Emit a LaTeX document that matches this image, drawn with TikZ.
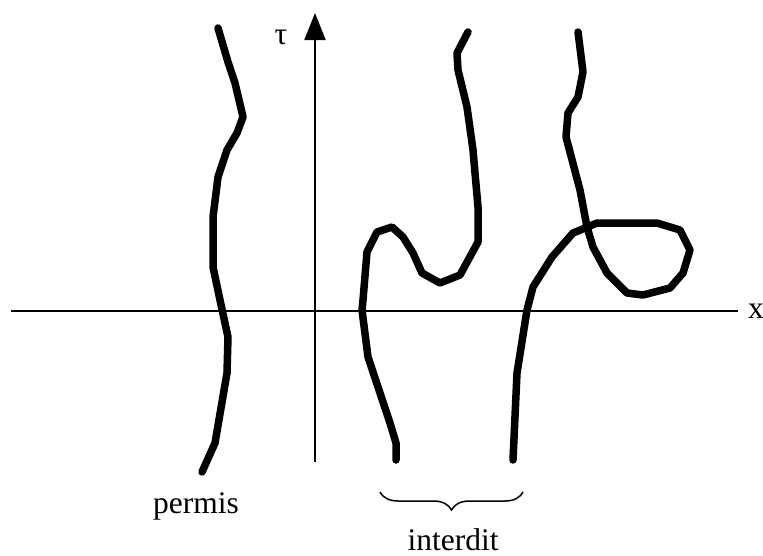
\documentclass[tikz,border=0pt]{standalone}
\usepackage{fontspec}
\setmainfont{Liberation Serif}
\usetikzlibrary{arrows.meta,decorations.pathreplacing}

\begin{document}
\begin{tikzpicture}[
  x=1pt, y=-1pt,
  curve/.style={line width=7.5pt, line join=round, line cap=round},
  axis/.style={line width=2pt},
  lbl/.style={font=\fontsize{31.5}{36}\selectfont, inner sep=0pt},
  arr/.style={-{Triangle[length=27pt,width=21pt]}}
]
\useasboundingbox (0,0) rectangle (763,555);
% axes
\coordinate (xl) at (11,311);
\coordinate (xr) at (738,311);
\coordinate (tb) at (315,462);
\coordinate (tt) at (315,13);
\draw[axis] (xl) -- (xr);
\draw[axis, arr] (tb) -- (tt);
\node[lbl, anchor=west] (xlab) at (748,311) {x};
\node[lbl] (taulab) at (281,37) {τ};

% allowed path
\draw[curve] (218,28) -- (228,62) -- (235,83) -- (243,117) -- (237,133)
  -- (227,150) -- (218,177) -- (213,217) -- (213,267) -- (220,300)
  -- (228,337) -- (227,373) -- (215,443) -- (202,472);

% forbidden paths
\draw[curve] (468,32) -- (457,53) -- (458,70) -- (467,107) -- (473,150)
  -- (478,207) -- (478,242) -- (460,275) -- (440,283) -- (422,273)
  -- (413,253) -- (403,237) -- (392,227) -- (377,232) -- (367,252)
  -- (363,300) -- (362,310) -- (368,357) -- (390,423) -- (396,443)
  -- (396,460);
\draw[curve] (578,32) -- (583,72) -- (578,97) -- (568,113) -- (566,137)
  -- (580,190) -- (587,227) -- (593,247) -- (607,273) -- (627,293)
  -- (643,295) -- (670,288) -- (683,273) -- (690,250) -- (680,230)
  -- (657,223) -- (597,223) -- (573,233) -- (552,257) -- (533,287)
  -- (527,310) -- (517,373) -- (513,460);

% labels
\node[lbl, anchor=base] (permis) at (196,513) {permis};
\coordinate (bl) at (380,492);
\coordinate (br) at (523,492);
\draw[line width=1.5pt, decorate, decoration={brace, mirror, amplitude=18pt}] (bl) -- (br);
\node[lbl, anchor=base] (interdit) at (453,550) {interdit};
\end{tikzpicture}
\end{document}
